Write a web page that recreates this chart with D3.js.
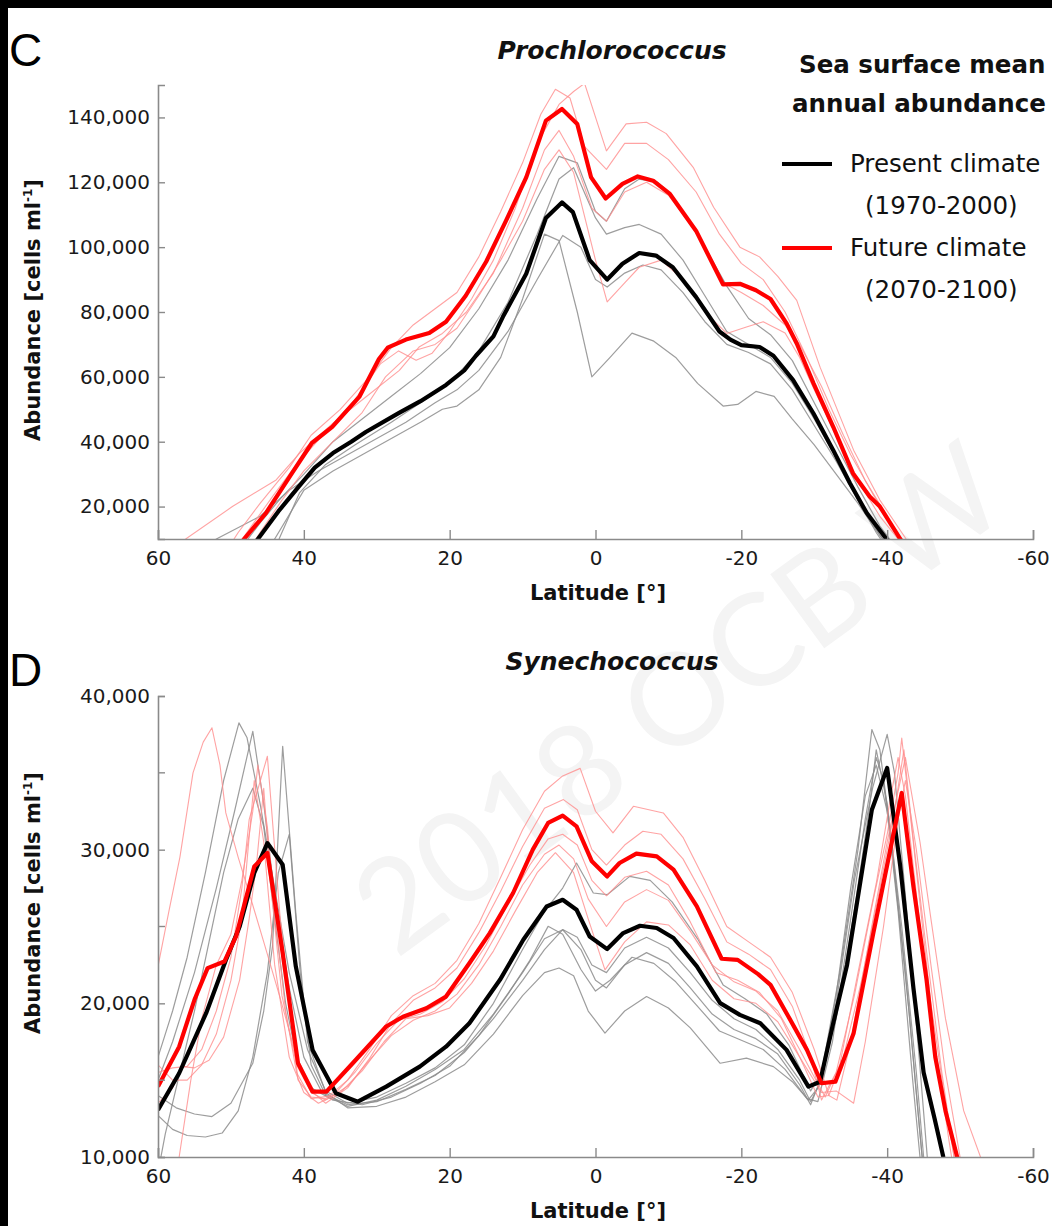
<!DOCTYPE html>
<html>
<head>
<meta charset="utf-8">
<script src="https://cdn.jsdelivr.net/npm/d3@7"></script>
<style>
  body { margin: 0; background: #fff; }
  svg { display: block; }
  text { font-family: "DejaVu Sans", "Open Sans", sans-serif; fill: #111; }
</style>
</head>
<body>
<div id="chart"></div>
<script>
// ---- data: [latitude, cells per ml] ----
const latTicks = [60, 40, 20, 0, -20, -40, -60];
const ticksC = [20000, 40000, 60000, 80000, 100000, 120000, 140000];
const ticksD = [10000, 20000, 30000, 40000];
const minorTicksD = [15000, 25000, 35000];

// Prochlorococcus, multi-model means
const presentMeanC = [[48,5000],[46.3,10000],[43.5,18500],[40.7,26150],[38.5,32000],[36,36500],[33.5,40000],[31.5,43000],[27,48800],[24,52500],[20.5,57500],[18,62000],[16.4,66500],[14,72500],[12.7,78500],[9.5,91800],[6.8,109000],[4.6,113800],[3.1,110800],[0.8,96000],[-1.6,90000],[-3.7,94900],[-6,98200],[-8.3,97400],[-10.6,93800],[-13.8,84600],[-17,74000],[-18.5,71500],[-20,69800],[-22.5,69200],[-24.4,66500],[-27.1,59000],[-29.9,48700],[-32.6,37400],[-34.9,27200],[-37.2,18000],[-39.9,10000],[-41,6500]];
const futureMeanC = [[49.5,6000],[48.2,10000],[45.2,18000],[41.6,30400],[38.9,39600],[36.1,44600],[32.4,53800],[29.7,65500],[28.5,69000],[26,71500],[22.8,73500],[20.5,77000],[17.8,85000],[15,95500],[12.3,108000],[9.5,121500],[6.8,139000],[4.6,142600],[2.5,138000],[0.6,121500],[-1.4,115000],[-3.7,119500],[-5.8,121800],[-7.9,120500],[-10.2,116400],[-13.8,105000],[-17.5,88500],[-19.8,88700],[-22,86700],[-24,84000],[-26.2,76500],[-27.6,70300],[-29.9,58000],[-32.6,44600],[-35.3,30300],[-37.6,23100],[-39,20000],[-41.8,10000],[-43,6000]];

// Prochlorococcus, single models
const presentModelsC = [
  [[49,6000],[46,15000],[43,23000],[40,30000],[36,40000],[32,47000],[28,54000],[24,61000],[20,69000],[16,81000],[12,96000],[8,115000],[5,128000],[2.5,126000],[0,111000],[-1.5,108000],[-4,118000],[-6,121000],[-8.5,120000],[-10.5,116000],[-14,104000],[-18,88000],[-21,78000],[-24,73000],[-27,65000],[-30,52000],[-33,39000],[-36,26000],[-39,14000],[-41,8000]],
  [[45,5000],[43.4,10000],[40.6,24200],[37,33000],[33,39000],[28,46000],[24,52000],[20,58000],[16,68000],[12,83000],[8,104000],[5,121000],[3,124500],[0,109000],[-1.5,104000],[-4,106000],[-6,107000],[-9,104000],[-12,96000],[-15,85000],[-18,74000],[-21,70000],[-24,66000],[-27,58000],[-30,47000],[-33,35000],[-36,23000],[-38.5,13000],[-40,8000]],
  [[54,5000],[52,10000],[46,17000],[42,25000],[38,31000],[34,36000],[30,41000],[26,46000],[22,52000],[19,56000],[16,62000],[12,74000],[8,90000],[4.5,103600],[2,100000],[0,90000],[-1.6,87700],[-4,92000],[-6.5,94500],[-9,93000],[-12,86000],[-15,77000],[-18,70000],[-21,67500],[-24,64000],[-27,56000],[-30,45000],[-33,34000],[-36,22000],[-38.5,12000],[-40,7000]],
  [[46,5000],[44,10000],[40,25000],[36,31000],[32,36000],[28,41000],[24,46000],[21,50000],[19,51000],[16,56000],[13,66000],[10,84000],[7,104000],[5,102000],[2.5,80000],[0.5,60000],[-2,66000],[-5,73500],[-8,71000],[-11,66000],[-14,58000],[-17.5,51000],[-19.5,51500],[-22,55500],[-24.5,54000],[-27,47000],[-30,39000],[-33,30000],[-36,21000],[-39,11000],[-40.5,7000]]
];
const futureModelsC = [
  [[51,5000],[49,12000],[46,21000],[42,32000],[39,42000],[35,50000],[31,60000],[28,69000],[25,76000],[22,81000],[19,86000],[16,97000],[13,111000],[10,126000],[7.5,141000],[5.5,148700],[3.5,146000],[1.5,131000],[-1.5,124000],[-4,132000],[-7,132000],[-10,127000],[-13.8,117000],[-17,104000],[-20,95000],[-23,90000],[-26,80000],[-29,66000],[-32,50000],[-35,36000],[-38,24000],[-41,13000],[-42.5,7000]],
  [[50,5000],[47.5,13000],[44,24000],[41,33000],[37,43000],[33,53000],[29.5,64000],[27,68000],[24.6,65100],[22.4,67300],[20,74000],[17,84000],[14,96000],[11,112000],[8,132000],[5,144000],[3,148000],[1.5,150500],[-1.5,129700],[-4.2,138000],[-7,138500],[-9.7,135000],[-13.4,124600],[-16.2,112300],[-19.8,100000],[-22.5,97000],[-25,91000],[-27.6,83600],[-30.8,63000],[-35.4,37400],[-39,22000],[-42.6,10000],[-44,6000]],
  [[48,5000],[46,12000],[43,22000],[40,31000],[36,40000],[32,49000],[28.8,60000],[25,68000],[22,70000],[19,75000],[16,85000],[13,96000],[10,108000],[7,124000],[5,130000],[3,123000],[0,96000],[-1.6,83100],[-4,89000],[-6,93800],[-9,96000],[-12,90000],[-15,80000],[-18,73400],[-20.7,75400],[-23,77000],[-26,73500],[-28,66000],[-30,56000],[-33,42000],[-36,28000],[-39,17000],[-41.5,10000],[-42.5,7000]],
  [[58,5000],[56.2,10000],[49.8,20000],[43.8,28200],[40.6,36400],[36,45700],[31.5,53800],[26.9,62000],[24.2,69200],[21,73400],[17.7,80000],[14,92000],[10,112000],[7,130000],[5,136000],[3,128000],[0.5,112000],[-1.5,108000],[-4,117000],[-7,120000],[-10,116000],[-14,104000],[-17.5,89000],[-20,86000],[-23,82000],[-26,76000],[-28,70000],[-31,57000],[-34,42000],[-37,28000],[-40,17000],[-42,10000],[-43,7000]]
];

// Synechococcus, multi-model means
const presentMeanD = [[60,13060],[57.1,15450],[53.4,19360],[50.7,22800],[48.8,25000],[46.8,28480],[45,30430],[42.9,29020],[41.1,22400],[38.8,16970],[35.6,14150],[32.6,13600],[28.7,14580],[24.1,15880],[20.5,17180],[17.3,18700],[13.1,21530],[9.9,24140],[6.7,26300],[4.5,26740],[2.6,26090],[0.8,24350],[-1.6,23530],[-3.8,24570],[-6.1,25050],[-8.4,24900],[-10.7,24250],[-13.9,22400],[-17.1,20010],[-19.8,19250],[-22.6,18700],[-26.2,16970],[-29.2,14580],[-30.8,14900],[-32.5,18500],[-34.5,22500],[-37.9,32600],[-40,35320],[-41.8,28900],[-43.6,21000],[-45,15500],[-46.5,12500],[-47.7,10000],[-49,8000]];
const futureMeanD = [[60,14580],[57.1,17180],[55,20230],[53.2,22290],[50.9,22720],[49.3,24350],[46.8,28910],[45,29780],[42.9,23270],[40.8,16100],[38.8,14250],[36.9,14250],[33.3,16100],[28.7,18490],[26.4,19130],[23.2,19680],[20.5,20440],[17.3,22610],[14.5,24570],[11.3,27180],[8.6,30000],[6.5,31740],[4.5,32210],[2.6,31520],[0.5,29240],[-1.6,28260],[-3.3,29130],[-5.6,29740],[-8.4,29560],[-10.7,28700],[-13.9,26310],[-17.3,22900],[-19.5,22830],[-22.3,21900],[-24,21200],[-26.2,19360],[-29,16970],[-31,14800],[-32.9,14900],[-35.4,18060],[-38.1,24570],[-40,29000],[-42,33690],[-43.6,27610],[-45.4,21530],[-46.6,16500],[-48,13000],[-49.6,10000],[-51,8000]];

// Synechococcus, single models
const presentModelsD = [
  [[60,16500],[58,19500],[56,23000],[53.5,28500],[51,34500],[48.9,38250],[47.8,37300],[46,33000],[44,27500],[42,22000],[39.5,17000],[37,14300],[34,13500],[30,13900],[26,14800],[22,15800],[18,17300],[14,20000],[10,23500],[7,26000],[4.5,27500],[2.6,29130],[0.3,27180],[-1.6,27070],[-4.7,28260],[-7.5,28000],[-10.5,26600],[-14,24200],[-17.5,21200],[-20.5,20300],[-23.5,19300],[-26.5,17300],[-29.5,14300],[-31,15500],[-33.5,22000],[-36,30000],[-37.9,37820],[-39,36500],[-40.5,31000],[-42.5,22000],[-44.8,10000],[-45.5,7000]],
  [[60,15000],[58,17500],[55,22000],[52,27500],[49.5,32500],[47,37700],[45.5,33000],[44,27000],[42,21000],[40,16500],[37.5,14200],[34,13400],[30,13600],[26,14400],[22,15300],[18,16800],[14,19000],[10,21500],[7,23500],[4.5,24800],[2.5,24300],[0.5,22500],[-1.5,22000],[-4,23600],[-7,24300],[-10,23600],[-13,22000],[-16,20200],[-19,19000],[-22,18300],[-25,17000],[-28,15000],[-29.5,13600],[-31,15000],[-33,20000],[-35.5,28000],[-38,34000],[-40,37500],[-41,35000],[-42.5,27000],[-44.3,17000],[-45.5,10000],[-46.5,7000]],
  [[60,14000],[57.5,13200],[55,12800],[52.6,12630],[50,13500],[47,16100],[45.5,19500],[44.3,23700],[42.9,36730],[41.1,25880],[39.5,17500],[37,14200],[34,13200],[30,13300],[26,13900],[22,14900],[18,16000],[14,18000],[10,20500],[7,22000],[5,22300],[3,21800],[1,19500],[-1.3,18060],[-4,19500],[-7,20440],[-10,19700],[-13,18400],[-17.1,16100],[-20.7,16430],[-24.4,15880],[-27,14900],[-29.2,13710],[-30.5,14500],[-33,19000],[-35.5,26000],[-37.5,32500],[-38.5,36500],[-40,33000],[-42,25000],[-44,15500],[-45,10000],[-46,7000]],
  [[60,12700],[58,11800],[56,11400],[53.5,11300],[51.2,11560],[49,13000],[47,16500],[45,22000],[43.5,28500],[42,31000],[40.5,22000],[39,16000],[37,14000],[34,13300],[30,13700],[26,14600],[22,15700],[18,17000],[14,19300],[10,22000],[7,24200],[4.5,24790],[2,23500],[0,21500],[-1.5,21000],[-4,22500],[-7,23300],[-10,22600],[-13,21000],[-16,19300],[-19,18300],[-22,17700],[-25,16700],[-28,14700],[-29.5,13400],[-31,15200],[-33,20500],[-35,27500],[-37,33500],[-38.5,35500],[-40,32500],[-41.5,26000],[-43.5,15000],[-44.5,10000],[-45.5,7000]],
  [[60,9000],[59,11500],[57,15500],[55,19500],[53,24000],[51,28500],[49,32000],[47,34000],[45.5,31500],[44,25500],[42.5,20000],[41,16500],[39,14500],[36,13700],[32,13400],[28,13900],[24,14800],[20,15900],[16,17900],[12,20600],[9,22800],[6.5,25010],[4.5,24500],[2,22200],[0,20800],[-2,21500],[-5,23000],[-8,22600],[-11,21400],[-14,19800],[-17,18200],[-20,17600],[-23,17000],[-26,15700],[-29,13800],[-30.5,13600],[-32.5,17500],[-35,25500],[-37,32000],[-38.5,36000],[-39.5,34500],[-41,28500],[-43,19500],[-44.5,11500],[-45,9000]]
];
const futureModelsD = [
  [[60,22400],[58.5,26000],[57,29500],[55.2,35000],[53.8,37000],[52.6,37930],[51.5,35500],[50.7,32390],[49,29500],[47.5,27180],[45.5,24000],[43.3,20440],[41,16500],[39,14300],[37,13500],[34,14500],[31,16400],[28,18700],[25,20200],[22,21000],[19,22300],[16,24600],[13,27300],[10,30200],[7,32700],[4.4,33260],[2.5,32600],[0.5,30000],[-1.5,29000],[-4,30300],[-6.5,31200],[-9,31000],[-12,29400],[-15,26800],[-18,24000],[-21,23200],[-24,22200],[-27,19800],[-29.5,16500],[-31,13710],[-33,15500],[-35.5,20500],[-38,26500],[-40,31000],[-41.5,35000],[-42,37260],[-43,33000],[-44.5,26500],[-46,20000],[-48,13500],[-49.5,9000]],
  [[60,15500],[58,15800],[56,15900],[54,17000],[52,19500],[50,23000],[48.5,27500],[47.5,31950],[45,36080],[43.3,25880],[42,20000],[40.8,15020],[39,13900],[37,13800],[34,15000],[31,17000],[28,19200],[25,20500],[22,21300],[19,22800],[16,25200],[13,28200],[10,31300],[7,33800],[4.5,34800],[2.1,35290],[0,32500],[-2.4,31090],[-5.2,32820],[-9.3,32390],[-12,30800],[-15,28000],[-18,25000],[-21,24000],[-24,23000],[-27,20700],[-30,17000],[-32,14000],[-33.1,13700],[-35,17500],[-37.5,24000],[-40,30500],[-42.5,36000],[-44.5,30500],[-46,25500],[-48,19000],[-50.5,13000],[-52.8,10000],[-53.5,8000]],
  [[60,16000],[58,15000],[56,15000],[54,16000],[52,18000],[50,21500],[48.5,25500],[46.8,34500],[45.5,30500],[44,22500],[42,16500],[40,14200],[38,13500],[35,14200],[32,15600],[29,17500],[26,19000],[23,19200],[20,19700],[17,21300],[14,23400],[11,26000],[8,28500],[5.5,29800],[3,28500],[1,25500],[-1.3,22180],[-4,24000],[-7,25300],[-10,25100],[-13,23800],[-16,21500],[-19,20300],[-22,20000],[-25,18800],[-28,16500],[-31,14200],[-33,14300],[-35.4,13500],[-37,17500],[-39.5,25000],[-41.5,32000],[-42.5,34500],[-44,30000],[-46,22500],[-48,15500],[-50,10000],[-51,8000]],
  [[57.5,8000],[57.1,10000],[55.5,15000],[54,19000],[52,22500],[50,24500],[48.5,28000],[47,32500],[46.3,35500],[45,31500],[44,26000],[42.5,19500],[41,15500],[39,13800],[36,14000],[33,15500],[30,17400],[27,18900],[24,19300],[21,20100],[18,21600],[15,23800],[12,26500],[9,29000],[6.5,30700],[4.5,31000],[2.5,30300],[0.5,28000],[-1.5,27000],[-4,28200],[-7,28600],[-10,27700],[-13,25300],[-16.5,22000],[-19.5,21500],[-22.5,20700],[-25.5,19000],[-28.5,16000],[-30.5,13900],[-32,14000],[-34,16500],[-36.5,21500],[-39,27500],[-41,32500],[-42.3,36500],[-43.5,31000],[-45.5,23000],[-47.5,15500],[-49.5,9000]],
  [[60,13500],[58,14500],[56.6,15880],[55,15800],[53,16300],[51,17800],[48.8,21530],[47.5,25500],[46.5,29000],[45.5,34000],[44.5,27500],[43,20500],[41,16000],[39,14200],[37,13700],[34,14600],[31,16300],[28,17900],[25,18900],[22,19500],[19,20600],[16,22500],[13,25000],[10,27700],[7,29700],[5,30300],[3,29400],[1,26800],[-1.5,25000],[-4,26600],[-7,27400],[-10,26700],[-13,24700],[-16,22500],[-19,21400],[-22,20800],[-25,19500],[-28,17000],[-30,15200],[-31.5,13900],[-33.5,16000],[-36,22000],[-38.5,27800],[-40.5,33500],[-41.5,36000],[-42.5,33500],[-44.5,25000],[-46.5,17500],[-48.5,11000],[-49.5,8000]]
];

// ---- layout ----
const W = 1052, H = 1226;
const x0 = 158, x1 = 1033;

const svg = d3.select("#chart").append("svg")
  .attr("width", W)
  .attr("height", H);

svg.append("rect").attr("width", W).attr("height", H).attr("fill", "#fff");

// faint watermark of the source figure
svg.append("text")
  .attr("transform", "translate(705,735) rotate(-36)")
  .attr("text-anchor", "middle")
  .style("font-family", "Lato, sans-serif")
  .style("font-size", "128px")
  .style("fill", "#f4f4f4")
  .text("2018 OCB W");

// black frame edges of the scanned figure
svg.append("rect").attr("x", 0).attr("y", 0).attr("width", W).attr("height", 8).attr("fill", "#000");
svg.append("rect").attr("x", 0).attr("y", 0).attr("width", 8).attr("height", H).attr("fill", "#000");

const x = d3.scaleLinear().domain([60, -60]).range([x0, x1]);

function drawPanel(cfg) {
  const y = d3.scaleLinear().domain(cfg.domain).range([cfg.bottom, cfg.top]);
  const g = svg.append("g");

  g.append("clipPath").attr("id", cfg.id + "-clip")
    .append("rect")
      .attr("x", x0).attr("y", cfg.top)
      .attr("width", x1 - x0).attr("height", cfg.bottom - cfg.top);

  const line = d3.line()
    .x(d => x(d[0]))
    .y(d => y(d[1]));

  const plot = g.append("g").attr("clip-path", `url(#${cfg.id}-clip)`);

  plot.selectAll(".gray")
    .data(cfg.present)
    .join("path")
      .attr("d", line)
      .attr("fill", "none")
      .attr("stroke", "#8c8c8c")
      .attr("stroke-opacity", 0.85)
      .attr("stroke-width", 1.2)
      .attr("stroke-linejoin", "round");

  plot.selectAll(".pink")
    .data(cfg.future)
    .join("path")
      .attr("d", line)
      .attr("fill", "none")
      .attr("stroke", "#ff8c8c")
      .attr("stroke-opacity", 0.8)
      .attr("stroke-width", 1.1)
      .attr("stroke-linejoin", "round");

  plot.append("path")
    .datum(cfg.presentMean)
    .attr("d", line)
    .attr("fill", "none")
    .attr("stroke", "#000")
    .attr("stroke-width", 4.2)
    .attr("stroke-linejoin", "round");

  plot.append("path")
    .datum(cfg.futureMean)
    .attr("d", line)
    .attr("fill", "none")
    .attr("stroke", "#ff0000")
    .attr("stroke-width", 4.2)
    .attr("stroke-linejoin", "round");

  // axes with inward ticks, MATLAB style
  const xAxis = g.append("g")
    .attr("transform", `translate(0,${cfg.bottom})`)
    .call(d3.axisBottom(x).tickValues(latTicks).tickSize(-9).tickPadding(9).tickFormat(d => String(d)));
  const yAxis = g.append("g")
    .attr("transform", `translate(${x0},0)`)
    .call(d3.axisLeft(y).tickValues(cfg.ticks).tickSize(-7).tickPadding(8).tickFormat(d3.format(",")));

  if (cfg.minor) {
    yAxis.selectAll(".minor")
      .data(cfg.minor)
      .join("line")
        .attr("class", "minor")
        .attr("x1", 0).attr("x2", 7)
        .attr("y1", d => y(d)).attr("y2", d => y(d))
        .attr("stroke", "#8a8a8a").attr("stroke-width", 1.4);
  }

  [xAxis, yAxis].forEach(a => {
    a.select(".domain").attr("stroke", "#8a8a8a").attr("stroke-width", 1.6);
    a.selectAll(".tick line").attr("stroke", "#8a8a8a").attr("stroke-width", 1.4);
    a.selectAll(".tick text")
      .style("font-family", "'DejaVu Sans', sans-serif")
      .style("font-size", "20px")
      .style("fill", "#1a1a1a");
  });
  xAxis.selectAll(".tick text").attr("dy", "0.85em");

  g.append("text")
    .attr("x", 598).attr("y", cfg.bottom + 61)
    .attr("text-anchor", "middle")
    .style("font-size", "21px").style("font-weight", 700)
    .text("Latitude [°]");

  const yl = g.append("text")
    .attr("transform", `translate(40,${cfg.labelY}) rotate(-90)`)
    .attr("text-anchor", "middle")
    .style("font-size", "21px").style("font-weight", 700);
  yl.append("tspan").text("Abundance [cells ml");
  yl.append("tspan").attr("dy", -8).style("font-size", "12px").text("-1");
  yl.append("tspan").attr("dy", 8).text("]");

  g.append("text")
    .attr("x", 612).attr("y", cfg.top - 26)
    .attr("text-anchor", "middle")
    .style("font-size", "25px").style("font-style", "italic").style("font-weight", 700)
    .text(cfg.title);

  g.append("text")
    .attr("x", 9).attr("y", cfg.letterY)
    .style("font-family", "'Liberation Sans', Arial, sans-serif")
    .style("font-size", "46px")
    .style("fill", "#000")
    .text(cfg.letter);
}

drawPanel({
  id: "c", letter: "C", letterY: 66, title: "Prochlorococcus",
  domain: [10000, 150000], top: 85, bottom: 539, labelY: 310,
  ticks: ticksC,
  present: presentModelsC, future: futureModelsC,
  presentMean: presentMeanC, futureMean: futureMeanC
});

drawPanel({
  id: "d", letter: "D", letterY: 686, title: "Synechococcus",
  domain: [10000, 40000], top: 696, bottom: 1157, labelY: 903,
  ticks: ticksD, minor: minorTicksD,
  present: presentModelsD, future: futureModelsD,
  presentMean: presentMeanD, futureMean: futureMeanD
});

// legend
const legendItems = [
  { label: "Present climate", years: "(1970-2000)", color: "#000", y: 164 },
  { label: "Future climate", years: "(2070-2100)", color: "#ff0000", y: 248 }
];

svg.append("text")
  .attr("x", 799).attr("y", 73)
  .style("font-size", "24.5px").style("font-weight", 700)
  .text("Sea surface mean");
svg.append("text")
  .attr("x", 792).attr("y", 112)
  .style("font-size", "24.5px").style("font-weight", 700)
  .text("annual abundance");

const lg = svg.append("g").selectAll("g")
  .data(legendItems)
  .join("g");
lg.append("line")
  .attr("x1", 782).attr("x2", 832)
  .attr("y1", d => d.y).attr("y2", d => d.y)
  .attr("stroke", d => d.color).attr("stroke-width", 4);
lg.append("text")
  .attr("x", 850).attr("y", d => d.y + 8)
  .style("font-size", "24.5px")
  .text(d => d.label);
lg.append("text")
  .attr("x", 865).attr("y", d => d.y + 50)
  .style("font-size", "24.5px")
  .text(d => d.years);
</script>
</body>
</html>
